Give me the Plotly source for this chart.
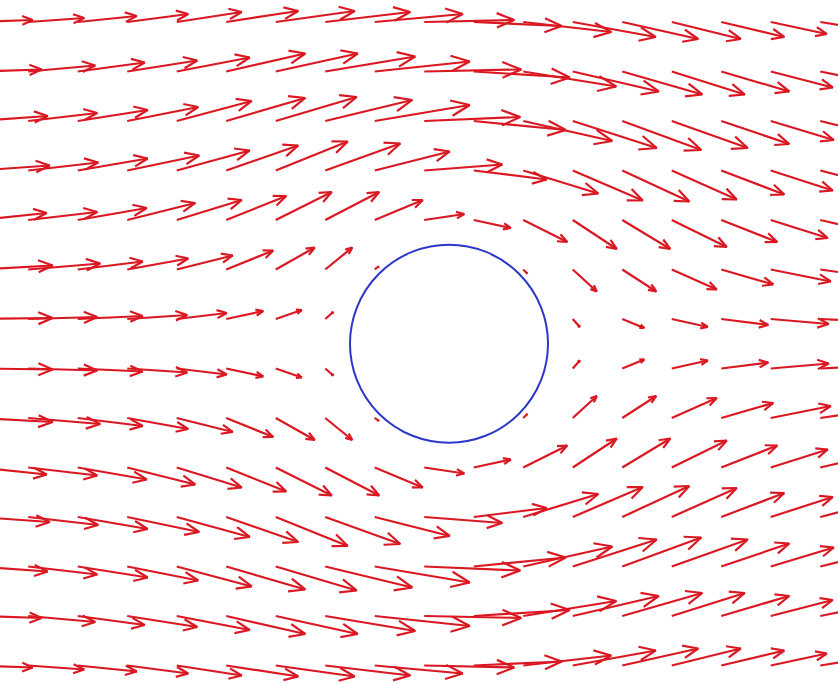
import math
import numpy as np
import plotly.figure_factory as ff
import plotly.graph_objects as go

# grid (tail positions of arrows), data units
X_COLS = [-4.75, -4.25, -3.75, -3.25, -2.75, -2.25, -1.75, -1.25, -0.75,
          -0.25, 0.25, 0.75, 1.25, 1.75, 2.25, 2.75, 3.25, 3.75]
Y_ROWS = [3.25, 2.75, 2.25, 1.75, 1.25, 0.75, 0.25,
          -0.25, -0.75, -1.25, -1.75, -2.25, -2.75, -3.25]

N = None
# horizontal velocity component, one list per row (top to bottom)
U = [
    [0.54, 0.56, 0.59, 0.61, 0.65, 0.72, 0.79, 0.85, 0.88, 0.90, 0.88, 0.88, 0.83, 0.76, 0.69, 0.63, 0.56, 0.54],
    [0.63, 0.67, 0.67, 0.70, 0.73, 0.79, 0.82, 0.90, 0.95, 0.97, 0.96, 0.93, 0.86, 0.80, 0.73, 0.68, 0.62, 0.60],
    [0.69, 0.69, 0.70, 0.71, 0.75, 0.79, 0.81, 0.87, 0.95, 0.96, 0.92, 0.89, 0.84, 0.79, 0.76, 0.68, 0.63, 0.62],
    [0.71, 0.70, 0.70, 0.72, 0.73, 0.72, 0.72, 0.75, 0.75, 0.78, 0.73, 0.75, 0.70, 0.67, 0.65, 0.63, 0.62, 0.62],
    [0.68, 0.69, 0.69, 0.68, 0.65, 0.60, 0.56, 0.54, 0.48, 0.40, 0.37, 0.44, 0.44, 0.48, 0.55, 0.56, 0.57, 0.60],
    [0.74, 0.72, 0.65, 0.61, 0.56, 0.47, 0.39, 0.27, 0.04, N, N, 0.04, 0.24, 0.34, 0.45, 0.52, 0.60, 0.63],
    [0.74, 0.69, 0.65, 0.60, 0.50, 0.37, 0.26, 0.08, N, N, N, N, 0.07, 0.22, 0.36, 0.47, 0.58, 0.63],
    [0.74, 0.69, 0.65, 0.60, 0.50, 0.37, 0.26, 0.08, N, N, N, N, 0.07, 0.22, 0.36, 0.47, 0.58, 0.63],
    [0.74, 0.72, 0.65, 0.61, 0.56, 0.47, 0.39, 0.27, 0.04, N, N, 0.04, 0.24, 0.34, 0.45, 0.52, 0.60, 0.63],
    [0.68, 0.69, 0.69, 0.68, 0.65, 0.60, 0.56, 0.54, 0.48, 0.40, 0.37, 0.44, 0.44, 0.48, 0.55, 0.56, 0.57, 0.60],
    [0.71, 0.70, 0.70, 0.72, 0.73, 0.72, 0.72, 0.75, 0.75, 0.78, 0.73, 0.75, 0.70, 0.67, 0.65, 0.63, 0.62, 0.62],
    [0.69, 0.69, 0.70, 0.71, 0.75, 0.79, 0.81, 0.87, 0.95, 0.96, 0.92, 0.89, 0.84, 0.79, 0.76, 0.68, 0.63, 0.62],
    [0.63, 0.67, 0.67, 0.70, 0.73, 0.79, 0.82, 0.90, 0.95, 0.97, 0.96, 0.93, 0.86, 0.80, 0.73, 0.68, 0.62, 0.60],
    [0.54, 0.56, 0.59, 0.61, 0.65, 0.72, 0.79, 0.85, 0.88, 0.90, 0.88, 0.88, 0.83, 0.76, 0.69, 0.63, 0.56, 0.54],
]
# vertical velocity component
V = [
    [0.02, 0.04, 0.06, 0.08, 0.10, 0.11, 0.11, 0.10, 0.08, 0.02, -0.04, -0.10, -0.15, -0.17, -0.17, -0.15, -0.12, -0.09],
    [0.02, 0.06, 0.09, 0.11, 0.14, 0.18, 0.18, 0.15, 0.10, 0.02, -0.06, -0.15, -0.20, -0.23, -0.23, -0.20, -0.16, -0.12],
    [0.05, 0.08, 0.11, 0.14, 0.20, 0.23, 0.24, 0.21, 0.16, 0.04, -0.09, -0.20, -0.27, -0.29, -0.27, -0.23, -0.19, -0.15],
    [0.05, 0.08, 0.12, 0.15, 0.20, 0.25, 0.29, 0.27, 0.19, 0.06, -0.09, -0.23, -0.30, -0.31, -0.29, -0.24, -0.20, -0.16],
    [0.07, 0.08, 0.12, 0.17, 0.20, 0.24, 0.28, 0.28, 0.20, 0.06, -0.08, -0.22, -0.29, -0.29, -0.27, -0.22, -0.18, -0.14],
    [0.04, 0.06, 0.08, 0.11, 0.14, 0.19, 0.22, 0.22, 0.03, N, N, -0.04, -0.22, -0.22, -0.20, -0.15, -0.12, -0.09],
    [0.01, 0.02, 0.03, 0.04, 0.06, 0.08, 0.09, 0.07, N, N, N, N, -0.08, -0.09, -0.08, -0.06, -0.05, -0.03],
    [-0.01, -0.02, -0.03, -0.04, -0.06, -0.08, -0.09, -0.07, N, N, N, N, 0.08, 0.09, 0.08, 0.06, 0.05, 0.03],
    [-0.04, -0.06, -0.08, -0.11, -0.14, -0.19, -0.22, -0.22, -0.03, N, N, 0.04, 0.22, 0.22, 0.20, 0.15, 0.12, 0.09],
    [-0.07, -0.08, -0.12, -0.17, -0.20, -0.24, -0.28, -0.28, -0.20, -0.06, 0.08, 0.22, 0.29, 0.29, 0.27, 0.22, 0.18, 0.14],
    [-0.05, -0.08, -0.12, -0.15, -0.20, -0.25, -0.29, -0.27, -0.19, -0.06, 0.09, 0.23, 0.30, 0.31, 0.29, 0.24, 0.20, 0.16],
    [-0.05, -0.08, -0.11, -0.14, -0.20, -0.23, -0.24, -0.21, -0.16, -0.04, 0.09, 0.20, 0.27, 0.29, 0.27, 0.23, 0.19, 0.15],
    [-0.02, -0.06, -0.09, -0.11, -0.14, -0.18, -0.18, -0.15, -0.10, -0.02, 0.06, 0.15, 0.20, 0.23, 0.23, 0.20, 0.16, 0.12],
    [-0.02, -0.04, -0.06, -0.08, -0.10, -0.11, -0.11, -0.10, -0.08, -0.02, 0.04, 0.10, 0.15, 0.17, 0.17, 0.15, 0.12, 0.09],
]
CYL_R = 1.0

xs, ys, us, vs = [], [], [], []
for j, yv in enumerate(Y_ROWS):
    for i, xv in enumerate(X_COLS):
        if U[j][i] is None:
            continue
        xs.append(xv); ys.append(yv); us.append(U[j][i]); vs.append(V[j][i])

fig = ff.create_quiver(np.array(xs), np.array(ys), np.array(us), np.array(vs),
                       scale=1.01, arrow_scale=0.21, angle=math.pi / 8,
                       line=dict(color="rgb(218,24,34)", width=2.2),
                       hoverinfo="skip", showlegend=False)

fig.add_shape(type="circle", xref="x", yref="y",
              x0=-CYL_R, y0=-CYL_R, x1=CYL_R, y1=CYL_R,
              line=dict(color="rgb(45,55,200)", width=2))

fig.update_layout(
    width=838, height=684,
    margin=dict(l=0, r=0, t=0, b=0),
    paper_bgcolor="white", plot_bgcolor="white",
    showlegend=False,
    xaxis=dict(range=[-4.535, 3.929], visible=False, showgrid=False, zeroline=False),
    yaxis=dict(range=[-3.437, 3.472], visible=False, showgrid=False, zeroline=False),
)
fig.write_html("out.html", config={"displayModeBar": False},
               post_script="document.body.style.margin='0';document.body.style.overflow='hidden';")
